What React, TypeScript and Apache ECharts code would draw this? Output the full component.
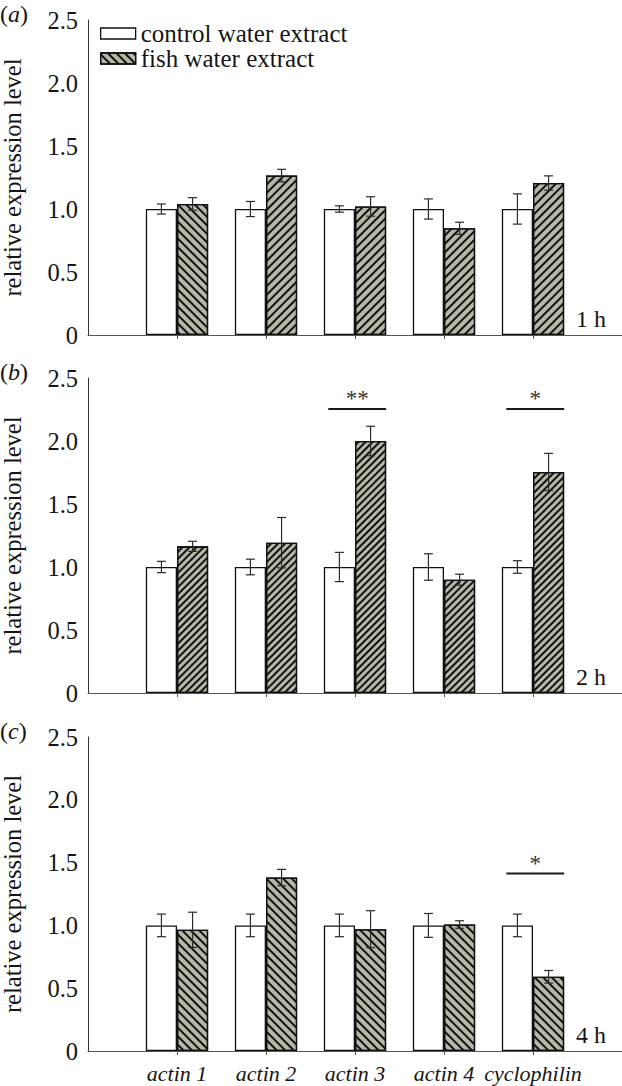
import React, { useEffect, useRef } from 'react';
import * as echarts from 'echarts';

// ---------- data ----------
const categories = ['', 'actin 1', 'actin 2', 'actin 3', 'actin 4', 'cyclophilin', ''];
const genes = ['actin 1', 'actin 2', 'actin 3', 'actin 4', 'cyclophilin'];
const yMin = 0;
const yMax = 2.5;
const yStep = 0.5;

const seriesNames = ['control water extract', 'fish water extract'];

// panel (a) 1 h
const controlA = [1.0, 1.0, 1.0, 1.0, 1.0];
const controlErrA = [0.04, 0.06, 0.025, 0.08, 0.12];
const fishA = [1.04, 1.265, 1.02, 0.847, 1.206];
const fishErrA = [0.05, 0.05, 0.077, 0.048, 0.057];
const hatchA = ['\\', '/', '/', '/', '/'];

// panel (b) 2 h
const controlB = [1.0, 1.0, 1.0, 1.0, 1.0];
const controlErrB = [0.045, 0.062, 0.116, 0.105, 0.05];
const fishB = [1.164, 1.193, 2.0, 0.899, 1.754];
const fishErrB = [0.04, 0.2, 0.117, 0.044, 0.148];
const hatchB = ['/', '/', '/', '/', '/'];
const sigGenesB = ['actin 3', 'cyclophilin'];
const sigLevelsB = [2.254, 2.254];
const sigLabelsB = ['**', '*'];

// panel (c) 4 h
const controlC = [1.0, 1.0, 1.0, 1.0, 1.0];
const controlErrC = [0.09, 0.09, 0.09, 0.095, 0.09];
const fishC = [0.965, 1.381, 0.97, 1.007, 0.591];
const fishErrC = [0.14, 0.065, 0.147, 0.03, 0.05];
const hatchC = ['\\', '\\', '\\', '\\', '\\'];
const sigGenesC = ['cyclophilin'];
const sigLevelsC = [1.413];
const sigLabelsC = ['*'];

const panelLetters = ['a', 'b', 'c'];
const timeLabels = ['1 h', '2 h', '4 h'];

// ---------- styles / layout ----------
const FONT = 'Liberation Serif, Times New Roman, serif';
const TEXT = '#151515';
const BAR_FRAC = 0.35;
const FISH_FILL = '#b7b7a8';

const panels = [
  { top: 20, height: 315, control: controlA, cErr: controlErrA, fish: fishA, fErr: fishErrA, hatch: hatchA, spacing: 3.2, sigG: [] as string[], sigL: [] as number[], sigT: [] as string[] },
  { top: 378, height: 315, control: controlB, cErr: controlErrB, fish: fishB, fErr: fishErrB, hatch: hatchB, spacing: 2.6, sigG: sigGenesB, sigL: sigLevelsB, sigT: sigLabelsB },
  { top: 737, height: 314, control: controlC, cErr: controlErrC, fish: fishC, fErr: fishErrC, hatch: hatchC, spacing: 3.6, sigG: sigGenesC, sigL: sigLevelsC, sigT: sigLabelsC },
];

function makeDecal(dir: string, spacing: number) {
  return {
    symbol: 'rect',
    symbolSize: 1,
    dashArrayX: [1, 0],
    dashArrayY: [1.1, spacing],
    rotation: dir === '/' ? -Math.PI / 4 : Math.PI / 4,
    color: '#111',
  };
}

function buildOption() {
  const grid: any[] = [];
  const xAxis: any[] = [];
  const yAxis: any[] = [];
  const series: any[] = [];
  const graphic: any[] = [];

  panels.forEach((p, pi) => {
    grid.push({ left: 88, right: 0, top: p.top, height: p.height, containLabel: false, outerBoundsMode: 'none' });
    xAxis.push({
      type: 'category',
      gridIndex: pi,
      data: categories,
      boundaryGap: false,
      axisLine: { show: true, lineStyle: { color: '#555', width: 1 } },
      axisTick: {
        show: true,
        length: 4,
        interval: (i: number) => i >= 1 && i <= genes.length,
        lineStyle: { color: '#555', width: 1 },
      },
      axisLabel: {
        show: pi === 2,
        interval: 0,
        margin: 11,
        fontFamily: FONT,
        fontSize: 22,
        fontStyle: 'italic',
        color: TEXT,
      },
      splitLine: { show: false },
    });
    yAxis.push({
      type: 'value',
      gridIndex: pi,
      min: yMin,
      max: yMax,
      interval: yStep,
      name: 'relative expression level',
      nameLocation: 'middle',
      nameGap: 63,
      nameTextStyle: { fontFamily: FONT, fontSize: 24.5, color: TEXT },
      axisLine: { show: true, lineStyle: { color: '#333', width: 1 } },
      axisTick: { show: false },
      splitLine: { show: false },
      axisLabel: {
        margin: 10,
        fontFamily: FONT,
        fontSize: 24.5,
        color: TEXT,
        formatter: (v: number) => (v === 0 ? '0' : v.toFixed(1)),
      },
    });

    series.push({
      type: 'bar',
      name: seriesNames[0],
      xAxisIndex: pi,
      yAxisIndex: pi,
      barWidth: BAR_FRAC * 100 + '%',
      barGap: '0%',
      itemStyle: { color: '#ffffff', borderColor: '#111', borderWidth: 1.3 },
      data: genes.map((g, i) => [g, p.control[i]]),
      z: 2,
    });
    series.push({
      type: 'bar',
      name: seriesNames[1],
      xAxisIndex: pi,
      yAxisIndex: pi,
      barWidth: BAR_FRAC * 100 + '%',
      barGap: '0%',
      itemStyle: { color: FISH_FILL, borderColor: '#111', borderWidth: 1.3, decal: makeDecal(p.hatch[0], p.spacing) },
      data: genes.map((g, i) => ({ value: [g, p.fish[i]], itemStyle: { decal: makeDecal(p.hatch[i], p.spacing) } })),
      z: 2,
    });

    // error bars
    const errData: number[][] = [];
    genes.forEach((g, i) => {
      const ci = categories.indexOf(g);
      errData.push([ci, p.control[i], p.cErr[i], -1]);
      errData.push([ci, p.fish[i], p.fErr[i], 1]);
    });
    series.push({
      type: 'custom',
      xAxisIndex: pi,
      yAxisIndex: pi,
      z: 5,
      silent: true,
      data: errData,
      renderItem: (params: any, api: any) => {
        const idx = api.value(0);
        const v = api.value(1);
        const e = api.value(2);
        const side = api.value(3);
        const base = api.coord([idx, v]);
        const band = api.size([1, 0])[0];
        const x = base[0] + (side * band * BAR_FRAC) / 2;
        const yHi = api.coord([idx, v + e])[1];
        const yLo = api.coord([idx, v - e])[1];
        const cap = 4.5;
        const st = { stroke: '#2a2a2a', lineWidth: 1.2 };
        return {
          type: 'group',
          children: [
            { type: 'line', shape: { x1: x, y1: yHi, x2: x, y2: yLo }, style: st },
            { type: 'line', shape: { x1: x - cap, y1: yHi, x2: x + cap, y2: yHi }, style: st },
            { type: 'line', shape: { x1: x - cap, y1: yLo, x2: x + cap, y2: yLo }, style: st },
          ],
        };
      },
    });

    if (p.sigG.length) {
      const labels = p.sigT;
      series.push({
        type: 'custom',
        xAxisIndex: pi,
        yAxisIndex: pi,
        z: 5,
        silent: true,
        data: p.sigG.map((g, i) => [categories.indexOf(g), p.sigL[i]]),
        renderItem: (params: any, api: any) => {
          const c = api.coord([api.value(0), api.value(1)]);
          const band = api.size([1, 0])[0];
          const x1 = c[0] - band * 0.3;
          const x2 = c[0] + band * BAR_FRAC;
          return {
            type: 'group',
            children: [
              { type: 'line', shape: { x1, y1: c[1], x2, y2: c[1] }, style: { stroke: '#1a1a1a', lineWidth: 2 } },
              {
                type: 'text',
                x: (x1 + x2) / 2,
                y: c[1] + 1,
                style: {
                  text: labels[params.dataIndex],
                  fill: '#333',
                  fontFamily: FONT,
                  fontSize: 23,
                  align: 'center',
                  verticalAlign: 'bottom',
                },
              },
            ],
          };
        },
      });
    }

    graphic.push({
      type: 'text',
      left: 0,
      top: p.top - 18,
      style: {
        text: '{p|(}{i|' + panelLetters[pi] + '}{p|)}',
        rich: {
          p: { fontFamily: FONT, fontSize: 24, fill: TEXT },
          i: { fontFamily: FONT, fontSize: 24, fontStyle: 'italic', fill: TEXT },
        },
      },
    });
    graphic.push({
      type: 'text',
      right: 16,
      top: p.top + p.height - 28,
      style: { text: timeLabels[pi], fontFamily: FONT, fontSize: 24, fill: TEXT },
    });
  });

  return {
    animation: false,
    backgroundColor: '#ffffff',
    textStyle: { fontFamily: FONT },
    grid,
    xAxis,
    yAxis,
    series,
    graphic,
    legend: {
      show: true,
      orient: 'vertical',
      left: 100,
      top: 21,
      padding: 0,
      itemWidth: 35,
      itemHeight: 11,
      itemGap: 0,
      selectedMode: false,
      icon: 'rect',
      data: seriesNames,
      textStyle: { fontFamily: FONT, fontSize: 25, color: TEXT },
      itemStyle: { borderColor: '#111', borderWidth: 1.3 },
    },
  };
}

export default function App() {
  const ref = useRef<HTMLDivElement>(null);
  useEffect(() => {
    if (!ref.current) return;
    const chart = echarts.init(ref.current, undefined, { renderer: 'svg' });
    chart.setOption(buildOption() as any);
    return () => chart.dispose();
  }, []);
  return (
    <div
      ref={ref}
      style={{ position: 'absolute', left: 0, top: 0, width: 622, height: 1086, background: '#fff' }}
    />
  );
}
